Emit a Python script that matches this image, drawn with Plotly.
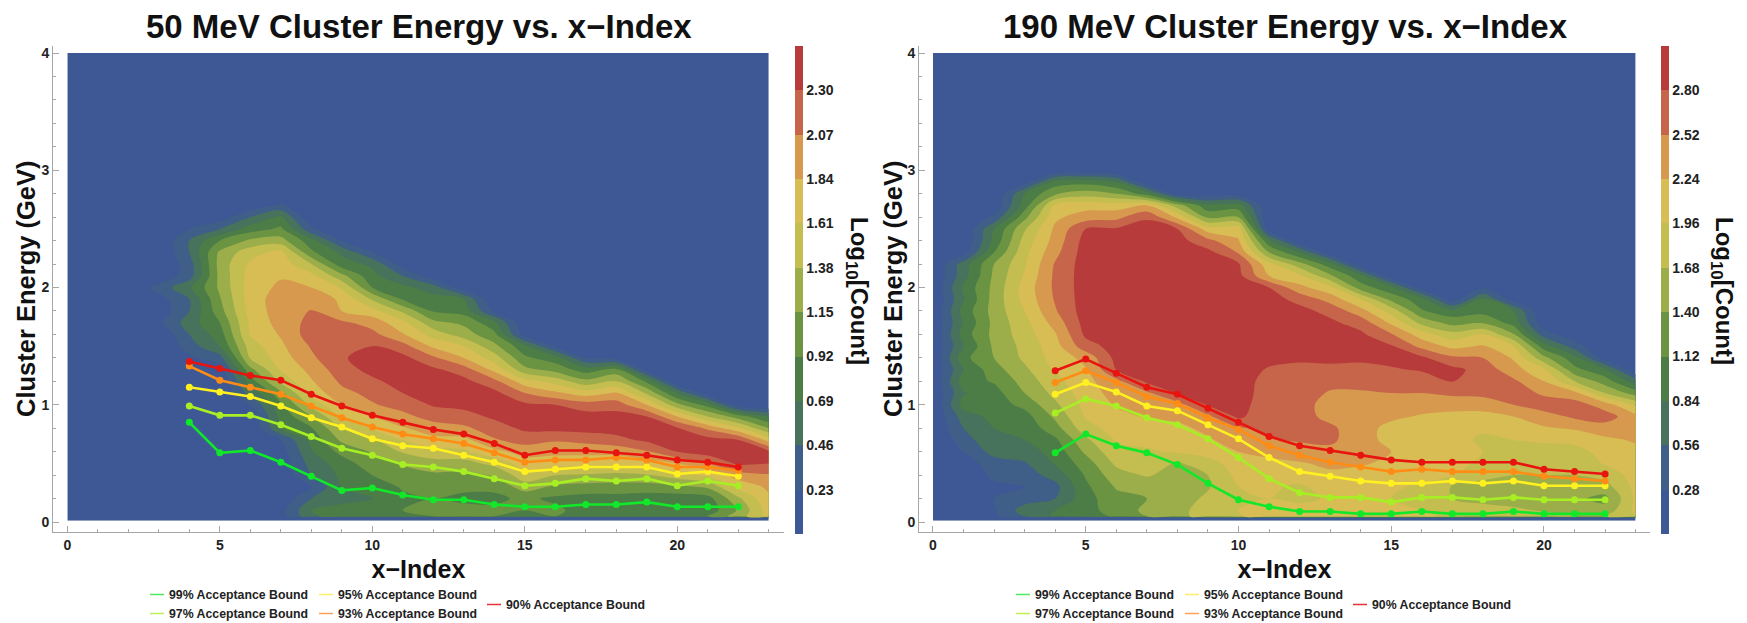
import plotly.graph_objects as go

W, H = 1747, 623
FONT = "Liberation Sans"

x_index = list(range(0, 24))
bound_x = list(range(4, 23))
energy_rows = [0.05, 0.1, 0.2, 0.3, 0.4, 0.5, 0.6, 0.7, 0.8, 0.9, 1.0, 1.1, 1.2, 1.3, 1.4, 1.5,
               1.6, 1.7, 1.8, 1.9, 2.0, 2.1, 2.2, 2.3, 2.4, 2.5, 2.6, 2.7, 2.8, 2.9, 3.0]
full_rows = [0.01, 0.035] + energy_rows + [3.1, 4.0]

step_50, step_190 = 0.23, 0.28
ticks_50 = [0.23, 0.46, 0.69, 0.92, 1.15, 1.38, 1.61, 1.84, 2.07, 2.30]
ticks_190 = [0.28, 0.56, 0.84, 1.12, 1.40, 1.68, 1.96, 2.24, 2.52, 2.80]
tick_text_50 = ["0.23", "0.46", "0.69", "0.92", "1.15", "1.38", "1.61", "1.84", "2.07", "2.30"]
tick_text_190 = ["0.28", "0.56", "0.84", "1.12", "1.40", "1.68", "1.96", "2.24", "2.52", "2.80"]

# Count level per x-index column, bottom (0.05 GeV) upward; in units of one colour band
levels_50 = [
    [],
    [],
    [],
    [0,0,0,0,0,0,0,0,0,0,0,0,0,0,0,0,0,.8,.3,.6,1.4,.2],
    [0,0,0,0,0,0,0,0,0,0,0,0,0,.3,.8,1.5,2,2.5,2,2,2.8,1.5,1.5,2,2,1],
    [0,0,0,0,0,0,0,0,0,0,0,0,0,.5,1.6,3,3.5,4,4.6,4.9,5.2,5.3,5.4,5.2,4,2,.4],
    [0,0,0,0,0,0,0,0,0,.2,1,2.4,3.5,4.7,6.1,6.5,7.1,7.2,7.4,7.5,7.5,7.4,7.2,6.6,5.2,3.5,2,.3],
    [.5,.6,.2,.2,.2,.3,.5,1,3,3.3,3.8,4.7,6.3,7.1,7.5,7.8,8.1,8.4,8.5,8.5,8.2,7.9,7.6,7.3,5.4,4.2,3.2,1.2],
    [2.8,3,2,1,2,2.4,2.9,3.3,3.9,5,6.3,7.4,7.9,8.3,8.8,9.1,9.5,9.3,9.05,8.7,8,7.3,6,4.2,3.4,1.2],
    [3.5,3.8,2.3,3,3.2,3.5,4.3,5.2,6,7.1,8,8.7,9.2,9.6,9.9,10.0,9.6,9.2,8,7.8,6.9,5.3,3.4,2.8,1],
    [3.5,3.8,3,3.5,4,4.6,5.1,5.8,7.1,8,8.9,9.3,9.8,10.3,10.4,10,9.3,8.6,7.4,5.9,4,3.3,2.8,1],
    [4,4,3.8,4.1,4.6,5.1,6.1,7,7.9,8.7,9.4,10,10.4,10.5,10.3,9.4,8.1,7.3,5.8,3.9,3.3,2,.5],
    [4,4.2,4,4.3,4.8,5.6,6.6,7.7,8.5,9.4,10.1,10.5,10.5,10.2,9.2,7.8,6.6,5.3,3.9,3.4,2.5,.3],
    [4,4.3,3.8,4.2,4.7,5.6,6.8,7.7,8.8,9.6,10.3,10.5,10.3,9.5,8,7,5.5,4.8,3.6,3,.3],
    [4,4.2,3.8,4.2,5.1,6.3,7.7,8.9,9.5,10.2,10.5,10.3,9.3,7.7,6.5,5.3,4.3,3.3,.8],
    [4,4,4.2,5.5,6.6,7.5,8.4,9.4,10.2,10.5,10.2,9,7.4,5.3,4.2,3.3,.5],
    [4,4.2,3.8,4.8,6,7.4,8.3,9.1,10.3,10.5,10,8.2,6.6,4.6,3.5,.8],
    [4,3.6,3.6,4.6,5.9,7.3,8.3,9.3,10.4,10.4,9.5,7.5,5.3,3.5,1],
    [4,3.6,3.6,4.6,5.7,7.3,8.3,9.7,10.4,10.4,9.5,8.1,6,4.3,.5],
    [4,3.8,3.5,4.5,5.9,7.5,8.9,10.2,10.5,10,8,5.8,3.8,.5],
    [4,3.6,3.5,4.7,6.6,8,10,10.5,10.1,8,5.3,3],
    [4,3.4,3.6,5.2,7.2,9,10.5,10.4,8.8,6,3.6,.2],
    [5.5,5.1,5.8,7.3,8.5,10.2,10.5,10,7.2,4.5,.3],
    [7.3,7.5,7.8,8.2,8.9,10,10.2,7.6,5,3],
]

levels_190 = [
    [],
    [0,.2,.2,.2,.3,.5,1,1.5,2,2.5,3.4,2.9,3.6,3,3.7,3,3.5,3.1,3.4,2.9,3.2,2.6,2.5,.5],
    [.8,.9,1,.8,1.2,1.5,2.4,2.9,3,3.3,3.5,3.6,4.1,4.6,5,5.2,5.3,5.3,5.4,5.4,5.3,5.2,5,4,3.3,3,1.2,.2],
    [2,2.5,1.5,1,1.5,1.9,2.5,3,3.3,3.6,4.3,5,5.4,5.8,6.2,6.3,6.5,6.7,7,7.3,7.4,7.1,6.9,6.7,6.4,5.9,4.7,3.5,3,.5],
    [3.2,3,2,1.7,2.4,3.1,3.4,3.8,4.6,5.2,5.8,6.3,6.7,7.1,7.4,7.6,7.9,8.4,8.9,9.1,9.2,9.2,9.1,8.7,8.4,8.2,7.8,7.2,4.9,3.4,.2],
    [3.4,3.6,3.6,3.8,4.1,4.5,5.2,5.8,6.6,7.1,7.3,7.5,7.7,7.9,8.3,9.6,10.2,10.4,10.5,10.5,10.5,10.5,10.5,10.5,10.4,10,8.5,7.6,5.5,3.6,.3],
    [4.2,4.5,4.7,5.1,5.6,6.2,6.7,7.1,7.4,7.7,8.1,8.4,8.7,10,10.3,10.4,10.5,10.5,10.5,10.5,10.5,10.5,10.5,10.5,10.4,10.1,8.7,7.5,5,3],
    [5,5.2,5,5.3,6.1,6.5,6.9,7.2,7.6,8.1,8.5,8.8,10.2,10.4,10.5,10.5,10.5,10.5,10.5,10.5,10.5,10.5,10.5,10.5,10.5,10.3,9.9,8,3.5,.2],
    [5.6,5.6,5.5,5.5,5.6,5.9,7.1,7.4,7.8,8.2,8.6,10.1,10.4,10.5,10.5,10.5,10.5,10.5,10.5,10.5,10.5,10.5,10.5,10.5,10.4,10,7.8,5.5,.5],
    [6.6,6.6,6.2,5.9,6,6.5,7.5,7.9,8.2,8.8,10.1,10.4,10.5,10.5,10.5,10.5,10.5,10.5,10.5,10.5,10.5,10.5,10.4,10.3,9.3,7.5,4.8,3.3,.3],
    [6.9,7,6.9,7,7.3,7.6,8,8.4,8.9,10.2,10.4,10.5,10.5,10.5,10.5,10.5,10.5,10.5,10.5,10.5,10.5,10.3,10.1,8.9,8.1,7.5,5,3.4,.5],
    [7.5,7.3,7,7.1,7.4,7.8,8.2,8.9,9.2,9.3,9.4,9.5,9.6,9.9,10.3,10.4,10.5,10.5,10.5,10.4,10,8,7.3,5,3.2,.3],
    [7.6,7.3,6.8,6.9,7.3,7.9,8.6,9.1,9.3,9.4,9.5,9.5,9.6,9.7,10.2,10.4,10.5,10.5,10.3,9.7,8.3,7.2,5.4,3,.2],
    [7.6,7.3,7.1,7.3,7.8,8.2,8.7,9.2,9.2,8.7,8.5,8.9,9.3,9.8,10.2,10.4,10.4,10.2,9.7,8.6,7.3,5.2,3.4,.3],
    [7.5,7.3,7.1,7.3,7.6,8.1,8.3,8.4,8.4,8.5,8.7,8.9,9.3,9.7,10.2,10.4,10.2,9.6,8.4,7,4.5,3.3,.2],
    [7.3,7.2,7,7.1,7.4,7.8,8,7.7,7.7,8.2,8.6,9,9.3,9.9,10.3,10.1,9.1,7.8,6.6,4.7,3.3,.2],
    [7.1,7,6.7,6.9,7.2,7.6,7.6,7.5,7.6,7.9,8.4,9,9.5,10.1,10.2,8.7,7.5,5.7,4.1,3.4,.5],
    [6.9,6.8,6,5.9,7,7.3,7.2,7.2,7.4,7.7,8.4,9.2,10.05,10.3,9.2,7.7,6.4,4.6,3.4,.4],
    [6.7,6.5,5.6,5.5,6.4,6.8,7,6.9,7.1,7.7,8.4,9.3,9.6,9.6,9,8.1,7,4.9,3.6,3.1,.8,.3],
    [6.4,6.2,5.5,5.7,6,6.1,6.3,7,7.4,8,9,9.6,9.2,8.4,7.9,7,5.1,3.6,3,.5],
    [6.3,5.9,5.5,5.6,6,6.2,6.5,7.2,7.9,8.5,9.6,8.8,8,7.2,5.3,3.5,1.5,.3],
    [6,5.5,5.2,5.7,6,6.2,6.6,7.3,8.1,9.2,9.5,8.3,6,4.3,3.4,1.5,.3],
    [6,5.4,4.7,5.6,6.4,7.1,7.4,7.8,8.5,9.5,8.5,6,4.5,3.2,.5],
    [7.1,7.2,7.2,7.3,7.4,7.6,7.8,8.1,8.3,8.3,6.8,4.5,2.5],
]

bound99_50 = [.85,.59,.61,.51,.39,.27,.29,.23,.19,.19,.15,.13,.13,.15,.15,.17,.13,.13,.13]
bound97_50 = [.99,.91,.91,.83,.73,.63,.57,.49,.47,.43,.37,.31,.33,.37,.35,.37,.31,.35,.31]
bound95_50 = [1.15,1.11,1.07,.99,.89,.81,.71,.65,.63,.57,.51,.43,.45,.47,.47,.47,.41,.43,.39]
bound93_50 = [1.33,1.21,1.15,1.09,.99,.89,.81,.75,.71,.67,.59,.51,.53,.53,.55,.53,.47,.47,.44]
bound90_50 = [1.37,1.31,1.25,1.21,1.09,.99,.91,.85,.79,.75,.67,.57,.61,.61,.59,.57,.53,.51,.47]

bound99_190 = [.59,.75,.65,.59,.49,.33,.19,.13,.09,.09,.07,.07,.09,.07,.07,.09,.07,.07,.07]
bound97_190 = [.93,1.05,.99,.89,.83,.71,.55,.37,.25,.21,.21,.17,.21,.21,.19,.21,.19,.19,.19]
bound95_190 = [1.09,1.19,1.11,.99,.95,.83,.71,.55,.43,.39,.35,.33,.33,.35,.33,.35,.31,.31,.31]
bound93_190 = [1.19,1.29,1.19,1.07,1.01,.89,.79,.65,.57,.51,.47,.43,.45,.43,.43,.43,.39,.37,.35]
bound90_190 = [1.29,1.39,1.27,1.15,1.09,.97,.85,.73,.65,.61,.57,.53,.51,.51,.51,.51,.45,.43,.41]

band_colors = ["#3d5894", "#3f5e88", "#47725c", "#4c7d46", "#6a9342", "#9cae4a",
               "#c4bd50", "#d8bd55", "#d6994e", "#c6654a", "#b83b3c"]
bound_names = ["99% Acceptance Bound", "97% Acceptance Bound", "95% Acceptance Bound",
               "93% Acceptance Bound", "90% Acceptance Bound"]
bound_colors = ["#12e82a", "#a8ee25", "#fff020", "#ff8c14", "#e8140f"]
LEGEND_COLORS = ["#4fe85f", "#bdee5a", "#ffee66", "#ff9f55", "#e8303a"]


def stepped():
    n = len(band_colors)
    out = []
    for i, c in enumerate(band_colors):
        out += [[i / n, c], [(i + 1) / n, c]]
    return out


def grid(columns, step):
    cols = [[0.0, 0.0] + c + [0.0] * (len(full_rows) - 2 - len(c)) for c in columns]
    return [[cols[j][i] * step for j in range(len(cols))] for i in range(len(full_rows))]


def px(v):
    return v / W


def py(v):
    return 1 - v / H


fig = go.Figure()


def panel(columns, step, ticks, tick_text, bounds, xa, ya, cb_left, legends):
    fig.add_trace(go.Contour(
        x=x_index, y=full_rows, z=grid(columns, step), xaxis=xa, yaxis=ya,
        colorscale=stepped(), zmin=0, zmax=step * 11, autocontour=False,
        contours=dict(start=step, end=step * 10 + 1e-6, size=step, coloring="fill", showlines=False),
        line=dict(width=0), hoverinfo="skip",
        colorbar=dict(x=px(cb_left), xanchor="left", xpad=0, ypad=0, thickness=8, thicknessmode="pixels",
                      lenmode="pixels", len=488, y=py(534), yanchor="bottom", outlinewidth=0,
                      tickvals=ticks, ticktext=tick_text, ticks="",
                      tickfont=dict(family=FONT, size=14, color="#222", weight="bold"))))
    for series, name, color in zip(bounds, bound_names, bound_colors):
        fig.add_trace(go.Scatter(x=bound_x, y=series, xaxis=xa, yaxis=ya, mode="lines+markers", name=name,
                                 line=dict(color=color, width=2.6), marker=dict(color=color, size=7),
                                 showlegend=False))
    for idxs, leg in zip([(0, 1), (2, 3), (4,)], legends):
        for i in idxs:
            fig.add_trace(go.Scatter(x=[None], y=[None], xaxis=xa, yaxis=ya, mode="lines", name=bound_names[i],
                                     line=dict(color=LEGEND_COLORS[i], width=1.5), legend=leg, legendgroup=leg + str(i)))


panel(levels_50, step_50, ticks_50, tick_text_50,
      [bound99_50, bound97_50, bound95_50, bound93_50, bound90_50], "x", "y", 795, ["legend", "legend2", "legend3"])
panel(levels_190, step_190, ticks_190, tick_text_190,
      [bound99_190, bound97_190, bound95_190, bound93_190, bound90_190], "x2", "y2", 1661, ["legend4", "legend5", "legend6"])

axis_font = dict(family=FONT, size=14, color="#222", weight="bold")
title_font = dict(family=FONT, size=25, color="#111", weight="bold")


def xaxis(left, right, xmin, xmax, anchor):
    return dict(domain=[px(left), px(right)], range=[xmin, xmax], anchor=anchor, showgrid=False, zeroline=False,
                automargin=False, showline=True, linecolor="#a6a6a6", linewidth=1, ticks="inside", ticklen=6,
                tickcolor="#a6a6a6", tickmode="array", tickvals=[0, 5, 10, 15, 20], tickfont=axis_font,
                minor=dict(tickvals=list(range(0, 24)), ticks="inside", ticklen=3, tickcolor="#a6a6a6"),
                title=dict(text="x\u2212Index", font=title_font, standoff=8))


def yaxis(anchor):
    return dict(domain=[py(532), py(46)], range=[-0.085, 4.06], anchor=anchor, showgrid=False, zeroline=False,
                automargin=False, showline=True, linecolor="#a6a6a6", linewidth=1, ticks="inside", ticklen=6,
                tickcolor="#a6a6a6", tickmode="array", tickvals=[0, 1, 2, 3, 4], tickfont=axis_font,
                minor=dict(dtick=0.2, ticks="inside", ticklen=3, tickcolor="#a6a6a6"))


def legend(left, top):
    return dict(x=px(left), y=py(top), xanchor="left", yanchor="top", bgcolor="rgba(0,0,0,0)", borderwidth=0,
                font=dict(family=FONT, size=12.3, color="#222", weight="bold"), tracegroupgap=4,
                itemwidth=30, traceorder="normal")


ann = []
for cx, txt in [(419, "50 MeV Cluster Energy vs. x\u2212Index"), (1285, "190 MeV Cluster Energy vs. x\u2212Index")]:
    ann.append(dict(x=px(cx), y=py(26), xref="paper", yref="paper", xanchor="center", yanchor="middle", showarrow=False,
                    text=txt, font=dict(family=FONT, size=33, color="#111", weight="bold")))
for cx in [858, 1723]:
    ann.append(dict(x=px(cx), y=py(291), xref="paper", yref="paper", xanchor="center", yanchor="middle", showarrow=False,
                    textangle=90, text="Log<sub>10</sub>[Count]", font=dict(family=FONT, size=24, color="#111", weight="bold")))
for cx in [26, 893]:
    ann.append(dict(x=px(cx), y=py(289), xref="paper", yref="paper", xanchor="center", yanchor="middle", showarrow=False,
                    textangle=-90, text="Cluster Energy (GeV)", font=dict(family=FONT, size=25.5, color="#111", weight="bold")))

fig.update_layout(
    width=W, height=H, autosize=False, margin=dict(l=0, r=0, t=0, b=0, autoexpand=False),
    paper_bgcolor="white", plot_bgcolor="white",
    annotations=ann,
    xaxis=xaxis(53, 784, -0.47, 23.5, "y"), yaxis=yaxis("x"),
    xaxis2=xaxis(919, 1650, -0.458, 23.47, "y2"), yaxis2=yaxis("x2"),
    legend=legend(129, 580), legend2=legend(298, 580), legend3=legend(466, 590),
    legend4=legend(995, 580), legend5=legend(1164, 580), legend6=legend(1332, 590),
)

fig.write_html("out.html", config={"displayModeBar": False},
               post_script="document.body.style.margin='0';"
                           "document.querySelectorAll('.legendlines path').forEach(function(p){p.setAttribute('d','M21,0h14');});")
